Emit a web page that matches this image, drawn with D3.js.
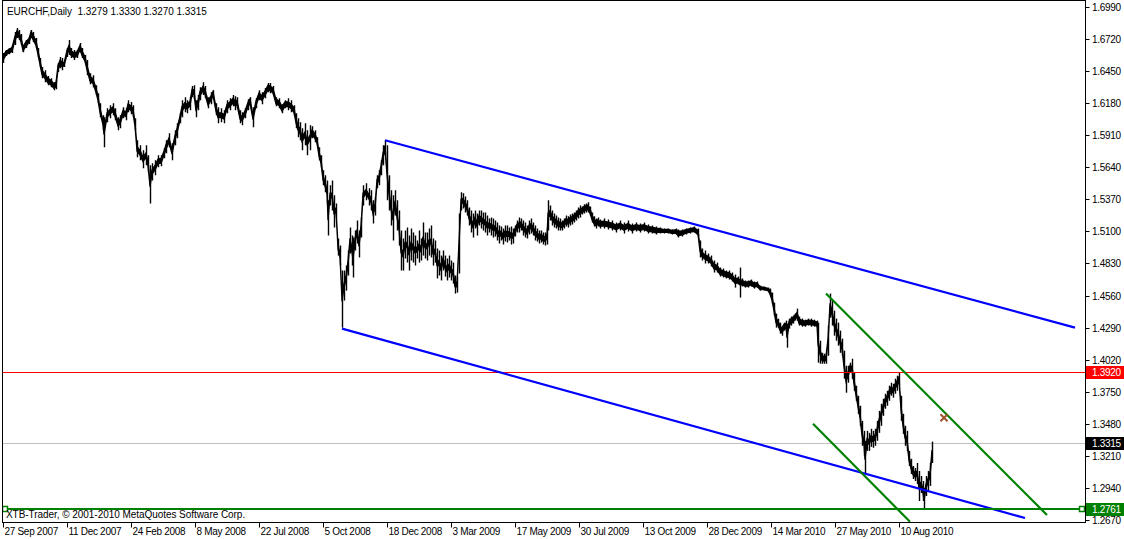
<!DOCTYPE html>
<html><head><meta charset="utf-8">
<script src="https://cdn.jsdelivr.net/npm/d3@7"></script>
<style>
html,body{margin:0;padding:0;background:#fff;}
svg{display:block;}
text{font-family:"Liberation Sans",Arial,sans-serif;font-size:10px;letter-spacing:-0.3px;}
text.wide{letter-spacing:-0.05px;}
</style></head><body>
<svg id="c" width="1124" height="539"></svg>
<script>
// ---------- data ----------
const symbolTitle = "EURCHF,Daily";
const lastOHLC = [1.3279, 1.3330, 1.3270, 1.3315];
const copyright = "XTB-Trader, \u00A9 2001-2010 MetaQuotes Software Corp.";

const barIdx = [
0,3,6,9,12,14,16,18,20,23,
26,28,30,33,35,37,39,42,45,48,
51,53,55,57,59,61,64,66,68,71,
74,77,79,82,84,87,90,93,95,97,
100,101,104,107,110,112,115,117,120,123,
125,128,130,132,134,137,140,143,145,147,
149,152,155,158,161,163,166,169,172,174,
177,179,182,184,187,189,191,193,195,197,
200,202,205,208,210,213,215,218,221,224,
227,230,232,234,237,239,242,245,247,250,
253,256,259,262,265,267,270,273,276,279,
282,285,288,291,293,295,297,299,302,304,
307,309,312,314,316,318,320,322,324,325,
327,329,331,333,335,337,339,341,343,345,
347,349,350,352,354,356,358,360,363,366,
368,370,372,374,376,378,380,382,384,386,
388,390,392,394,396,398,400,402,404,406,
408,410,412,414,416,418,420,422,424,426,
428,430,432,434,436,438,440,442,444,446,
448,450,452,454,456,458,460,462,464,466,
468,470,472,474,476,478,480,482,484,486,
488,490,492,494,496,498,500,502,504,506,
508,510,512,514,516,518,520,522,524,526,
528,530,532,534,536,538,540,542,544,545,
547,549,551,553,555,557,559,561,563,565,
567,569,571,573,575,577,579,581,583,585,
587,589,591,593,595,597,601,605,609,613,
617,621,625,629,633,637,641,645,649,653,
657,661,665,669,673,675,679,683,687,691,
695,697,699,702,705,708,711,714,717,720,
723,726,729,732,735,737,739,742,745,748,
751,754,757,761,765,767,769,771,773,775,
777,779,781,783,784,786,788,790,792,794,
796,799,802,805,808,811,814,815,817,819,
821,823,825,827,829,831,833,835,837,839,
841,843,845,847,849,851,853,855,857,859,
861,862,864,866,868,870,872,874,876,878,
880,882,884,886,888,890,892,894,896,898,
900,902,904,906,908,910,912,914,916,918,
920,921,923,925,927,929
];
const highs = [
1.6602,1.6627,1.6644,1.6661,1.6779,1.6813,1.6796,1.6762,1.6669,1.6712,
1.6737,1.6796,1.6779,1.6728,1.6644,1.6560,1.6484,1.6458,1.6408,1.6391,
1.6357,1.6374,1.6518,1.6568,1.6560,1.6526,1.6644,1.6712,1.6644,1.6627,
1.6627,1.6686,1.6644,1.6585,1.6543,1.6433,1.6416,1.6332,1.6264,1.6180,
1.6079,1.6062,1.6138,1.6163,1.6180,1.6138,1.6062,1.6079,1.6146,1.6138,
1.6205,1.6189,1.6163,1.6053,1.5868,1.5826,1.5783,1.5826,1.5741,1.5657,
1.5674,1.5699,1.5741,1.5741,1.5800,1.5868,1.5927,1.5842,1.5952,1.6011,
1.6096,1.6205,1.6231,1.6205,1.6231,1.6324,1.6332,1.6205,1.6248,1.6315,
1.6357,1.6324,1.6231,1.6273,1.6290,1.6180,1.6146,1.6138,1.6121,1.6205,
1.6222,1.6248,1.6239,1.6231,1.6121,1.6104,1.6138,1.6214,1.6231,1.6146,
1.6222,1.6290,1.6273,1.6307,1.6349,1.6349,1.6324,1.6231,1.6222,1.6172,
1.6205,1.6222,1.6205,1.6163,1.6096,1.6053,1.6020,1.5969,1.6011,1.5952,
1.5994,1.5986,1.5952,1.5893,1.5809,1.5741,1.5615,1.5573,1.5530,1.5362,
1.5488,1.5530,1.5404,1.5336,1.5041,1.4982,1.4771,1.4771,1.4813,1.4940,
1.5134,1.5066,1.5049,1.5108,1.5193,1.5108,1.5218,1.5488,1.5505,1.5463,
1.5446,1.5362,1.5387,1.5573,1.5615,1.5699,1.5826,1.5868,1.5826,1.5573,
1.5446,1.5404,1.5446,1.5362,1.5277,1.5108,1.5041,1.5108,1.5134,1.5066,
1.5125,1.5091,1.5066,1.5024,1.5108,1.5041,1.5176,1.5091,1.5091,1.5125,
1.5151,1.5041,1.5024,1.4957,1.4940,1.4897,1.4940,1.4897,1.4872,1.4897,
1.4855,1.4838,1.4729,1.4720,1.5252,1.5429,1.5421,1.5395,1.5362,1.5302,
1.5277,1.5252,1.5277,1.5252,1.5277,1.5277,1.5260,1.5260,1.5235,1.5210,
1.5218,1.5210,1.5193,1.5176,1.5151,1.5142,1.5125,1.5151,1.5151,1.5134,
1.5142,1.5125,1.5151,1.5193,1.5218,1.5210,1.5193,1.5176,1.5151,1.5193,
1.5210,1.5176,1.5151,1.5125,1.5108,1.5108,1.5091,1.5091,1.5125,1.5362,
1.5319,1.5277,1.5252,1.5235,1.5218,1.5210,1.5193,1.5210,1.5235,1.5227,
1.5243,1.5252,1.5260,1.5277,1.5302,1.5319,1.5311,1.5328,1.5336,1.5345,
1.5311,1.5260,1.5227,1.5210,1.5218,1.5201,1.5210,1.5201,1.5193,1.5176,
1.5193,1.5176,1.5193,1.5167,1.5176,1.5167,1.5176,1.5159,1.5151,1.5142,
1.5134,1.5125,1.5125,1.5117,1.5125,1.5117,1.5117,1.5125,1.5134,1.5142,
1.5125,1.5024,1.4957,1.4940,1.4914,1.4897,1.4855,1.4838,1.4796,1.4788,
1.4771,1.4771,1.4754,1.4737,1.4720,1.4796,1.4704,1.4687,1.4687,1.4695,
1.4678,1.4678,1.4644,1.4636,1.4627,1.4619,1.4585,1.4501,1.4408,1.4366,
1.4332,1.4307,1.4332,1.4349,1.4324,1.4366,1.4383,1.4391,1.4408,1.4450,
1.4383,1.4366,1.4357,1.4366,1.4366,1.4357,1.4349,1.4332,1.4180,1.4078,
1.4070,1.4078,1.4307,1.4577,1.4518,1.4433,1.4366,1.4332,1.4265,1.4197,
1.4096,1.3969,1.3969,1.3995,1.4028,1.3910,1.3801,1.3716,1.3632,1.3505,
1.3421,1.3337,1.3421,1.3404,1.3438,1.3421,1.3438,1.3505,1.3589,1.3649,
1.3691,1.3733,1.3758,1.3801,1.3826,1.3817,1.3860,1.3885,1.3915,1.3716,
1.3564,1.3463,1.3421,1.3252,1.3185,1.3125,1.3108,1.3150,1.3083,1.3041,
1.2998,1.2940,1.3041,1.3083,1.3150,1.3330
];
const lows = [
1.6518,1.6577,1.6593,1.6602,1.6669,1.6728,1.6712,1.6669,1.6610,1.6644,
1.6678,1.6728,1.6695,1.6644,1.6568,1.6484,1.6391,1.6357,1.6332,1.6315,
1.6290,1.6298,1.6442,1.6475,1.6458,1.6484,1.6568,1.6585,1.6560,1.6543,
1.6560,1.6610,1.6560,1.6518,1.6416,1.6340,1.6315,1.6248,1.6180,1.6062,
1.5952,1.5809,1.6020,1.6053,1.6079,1.6037,1.5952,1.5969,1.6053,1.6037,
1.6104,1.6087,1.6062,1.5952,1.5724,1.5699,1.5632,1.5657,1.5598,1.5336,
1.5530,1.5573,1.5640,1.5648,1.5716,1.5758,1.5809,1.5699,1.5826,1.5885,
1.6011,1.6062,1.6104,1.6096,1.6121,1.6231,1.6214,1.6062,1.6121,1.6205,
1.6248,1.6222,1.6138,1.6172,1.6231,1.6079,1.6011,1.6020,1.6011,1.6096,
1.6121,1.6155,1.6121,1.6138,1.6011,1.5994,1.6053,1.6121,1.6163,1.5977,
1.6138,1.6205,1.6172,1.6222,1.6273,1.6264,1.6248,1.6155,1.6138,1.6096,
1.6138,1.6121,1.6104,1.6079,1.5969,1.5893,1.5868,1.5783,1.5826,1.5741,
1.5783,1.5885,1.5851,1.5826,1.5699,1.5640,1.5488,1.5429,1.5336,1.5066,
1.5319,1.5277,1.5134,1.5218,1.4897,1.4813,1.4290,1.4518,1.4602,1.4729,
1.4914,1.4813,1.4712,1.4940,1.4999,1.4881,1.5049,1.5319,1.5362,1.5319,
1.5277,1.5167,1.5235,1.5463,1.5488,1.5573,1.5657,1.5741,1.5362,1.5277,
1.5151,1.5024,1.5235,1.5108,1.4982,1.4771,1.4771,1.4872,1.4838,1.4771,
1.4855,1.4838,1.4813,1.4872,1.4838,1.4855,1.4897,1.4872,1.4855,1.4897,
1.4881,1.4813,1.4838,1.4704,1.4729,1.4687,1.4771,1.4720,1.4687,1.4712,
1.4687,1.4661,1.4577,1.4585,1.4746,1.5277,1.5294,1.5260,1.5235,1.5151,
1.5091,1.5049,1.5125,1.5066,1.5151,1.5125,1.5108,1.5091,1.5066,1.5091,
1.5066,1.5049,1.5058,1.5024,1.4999,1.5024,1.4990,1.5016,1.5007,1.5024,
1.4990,1.4999,1.5058,1.5091,1.5091,1.5108,1.5066,1.5049,1.5041,1.5075,
1.5083,1.5066,1.5024,1.5016,1.4999,1.5007,1.4990,1.4982,1.4990,1.5108,
1.5193,1.5151,1.5134,1.5125,1.5108,1.5108,1.5108,1.5125,1.5142,1.5134,
1.5151,1.5159,1.5176,1.5193,1.5210,1.5218,1.5243,1.5252,1.5260,1.5260,
1.5235,1.5176,1.5142,1.5125,1.5142,1.5125,1.5125,1.5117,1.5108,1.5091,
1.5108,1.5083,1.5100,1.5083,1.5100,1.5091,1.5100,1.5083,1.5083,1.5075,
1.5083,1.5083,1.5083,1.5075,1.5075,1.5049,1.5058,1.5075,1.5083,1.5091,
1.5058,1.4881,1.4855,1.4830,1.4830,1.4805,1.4754,1.4754,1.4720,1.4712,
1.4704,1.4695,1.4678,1.4627,1.4653,1.4543,1.4636,1.4627,1.4627,1.4636,
1.4619,1.4627,1.4602,1.4602,1.4594,1.4560,1.4492,1.4391,1.4290,1.4290,
1.4239,1.4222,1.4265,1.4265,1.4121,1.4282,1.4307,1.4324,1.4349,1.4349,
1.4307,1.4298,1.4298,1.4307,1.4298,1.4298,1.4290,1.3995,1.3986,1.3986,
1.3986,1.3986,1.4053,1.4374,1.4307,1.4222,1.4180,1.4138,1.4078,1.4053,
1.3860,1.3742,1.3826,1.3910,1.3860,1.3758,1.3674,1.3564,1.3463,1.3295,
1.3210,1.3058,1.3252,1.3252,1.3286,1.3278,1.3295,1.3337,1.3404,1.3463,
1.3547,1.3607,1.3632,1.3674,1.3716,1.3700,1.3733,1.3758,1.3801,1.3505,
1.3396,1.3295,1.3252,1.3125,1.3058,1.3015,1.2998,1.2974,1.2830,1.2898,
1.2830,1.2763,1.2872,1.2915,1.2957,1.3150
];

const dateLabels = ["27 Sep 2007","11 Dec 2007","24 Feb 2008","8 May 2008","22 Jul 2008",
  "5 Oct 2008","18 Dec 2008","3 Mar 2009","17 May 2009","30 Jul 2009","13 Oct 2009",
  "28 Dec 2009","14 Mar 2010","27 May 2010","10 Aug 2010"];
const dateTickBars = [0,64,128,192,256,320,384,448,512,576,640,704,768,832,896];
const priceTicks = [1.6990,1.6720,1.6450,1.6180,1.5910,1.5640,1.5370,1.5100,1.4830,
  1.4560,1.4290,1.4020,1.3750,1.3480,1.3210,1.2940,1.2670];

const resistanceLevel = 1.3920;   // red
const bidLevel = 1.3315;          // grey
const supportLevel = 1.2761;      // green
const blueLines = [ [[382,1.5868],[1072,1.4290]], [[339,1.4282],[1022,1.2687]] ];
const greenLines = [ [[823,1.4577],[1044,1.2712]], [[810,1.3480],[907,1.2655]] ];
const crossMark = [941, 1.3531];

// ---------- chart ----------
const svg = d3.select("#c");
const x = d3.scaleLinear().domain([0, 1083]).range([3, 1086]);
const y = d3.scaleLinear().domain([1.2670, 1.6990]).range([520, 7]);
const L = 2.5, R = 1085.5, T = 0.5, B = 522.5;

svg.append("defs").append("clipPath").attr("id","plot")
  .append("rect").attr("x",L).attr("y",T).attr("width",R-L).attr("height",B-T);
const plot = svg.append("g").attr("clip-path","url(#plot)");

const crisp = v => Math.round(y(v)) + 0.5;
plot.append("line").attr("x1",L).attr("x2",R).attr("y1",crisp(bidLevel)).attr("y2",crisp(bidLevel))
  .attr("stroke","#c0c0c0").attr("stroke-width",1);

// price: dense core band plus full high-low whiskers
const idx = d3.range(barIdx.length);
const half = i => Math.min(0.3 * (highs[i] - lows[i]), 0.0020);
const mid = i => (highs[i] + lows[i]) / 2;
const core = d3.area()
  .x(i => x(barIdx[i]))
  .y0(i => y(mid(i) - half(i)))
  .y1(i => y(mid(i) + half(i)));
const price = plot.append("g");
price.append("path").datum(idx).attr("d", core)
  .attr("fill","#000").attr("stroke","#000").attr("stroke-width",1.2);
price.selectAll("line").data(idx).join("line")
  .attr("x1", i => Math.round(x(barIdx[i])) + 0.5).attr("x2", i => Math.round(x(barIdx[i])) + 0.5)
  .attr("y1", i => y(highs[i])).attr("y2", i => y(lows[i]))
  .attr("stroke","#000").attr("stroke-width",1.4);

plot.append("line").attr("x1",L).attr("x2",R).attr("y1",crisp(resistanceLevel)).attr("y2",crisp(resistanceLevel))
  .attr("stroke","#ff0000").attr("stroke-width",1);

const line = d3.line().x(d => x(d[0])).y(d => y(d[1]));
plot.selectAll("path.blue").data(blueLines).join("path").attr("class","blue")
  .attr("d", line).attr("stroke","#0000ff").attr("stroke-width",2.2).attr("fill","none");
plot.selectAll("path.green").data(greenLines).join("path").attr("class","green")
  .attr("d", line).attr("stroke","#008000").attr("stroke-width",2.2).attr("fill","none");

// support line with end squares
const sy = Math.round(y(supportLevel));
plot.append("line").attr("x1",L).attr("x2",R).attr("y1",sy).attr("y2",sy)
  .attr("stroke","#008000").attr("stroke-width",2);
[5, 1082].forEach(cx => {
  plot.append("rect").attr("x",cx-2.5).attr("y",sy-2.5).attr("width",5).attr("height",5)
    .attr("fill","#fff").attr("stroke","#008000").attr("stroke-width",1.5);
});

// cross marker
const cxm = x(crossMark[0]), cym = y(crossMark[1]);
plot.append("path").attr("d",`M${cxm-3.5},${cym-3.5}L${cxm+3.5},${cym+3.5}M${cxm-3.5},${cym+3.5}L${cxm+3.5},${cym-3.5}`)
  .attr("stroke","#a0522d").attr("stroke-width",2).attr("fill","none");

// frame
svg.append("rect").attr("x",L).attr("y",T).attr("width",R-L).attr("height",B-T)
  .attr("fill","none").attr("stroke","#000").attr("stroke-width",1);

// right axis
const ra = svg.append("g");
priceTicks.forEach(v => {
  const yy = Math.round(y(v)) + 0.5;
  ra.append("line").attr("x1",R).attr("x2",R+4).attr("y1",yy).attr("y2",yy).attr("stroke","#000");
  ra.append("text").attr("x",1092).attr("y",yy).attr("dy","0.35em").attr("fill","#000").text(v.toFixed(4));
});
function levelBox(v, col) {
  const yy = Math.round(y(v)) + 0.5;
  ra.append("rect").attr("x",1086).attr("y",yy-6.5).attr("width",38).attr("height",13).attr("fill",col);
  ra.append("text").attr("x",1092).attr("y",yy).attr("dy","0.35em").attr("fill","#fff").text(v.toFixed(4));
}
levelBox(resistanceLevel, "#ff0000");
levelBox(bidLevel, "#000000");
levelBox(supportLevel, "#008000");

// bottom axis
const ba = svg.append("g");
dateTickBars.forEach((b, i) => {
  const xx = Math.round(x(b)) + 0.5;
  ba.append("line").attr("x1",xx).attr("x2",xx).attr("y1",B).attr("y2",B+5).attr("stroke","#000");
  ba.append("text").attr("x",xx+1).attr("y",535).attr("fill","#000").text(dateLabels[i]);
});

// title & copyright
svg.append("text").attr("class","wide").attr("x",7).attr("y",15).attr("fill","#000")
  .attr("xml:space","preserve")
  .text(symbolTitle + "  " + lastOHLC.map(d => d.toFixed(4)).join(" "));
svg.append("text").attr("class","wide").attr("x",6).attr("y",518).attr("fill","#000").text(copyright);
</script>
</body></html>
